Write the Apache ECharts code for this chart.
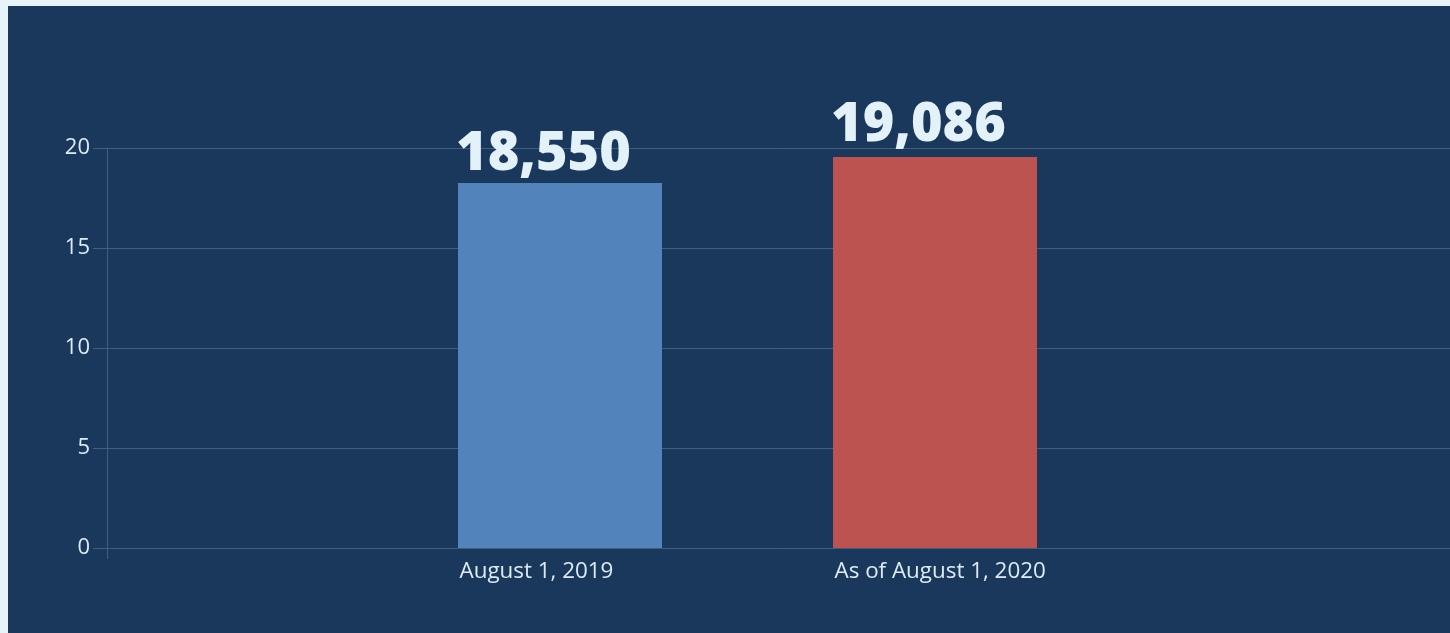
<!DOCTYPE html>
<html>
<head>
<meta charset="utf-8">
<script src="https://cdn.jsdelivr.net/npm/echarts@6/dist/echarts.min.js"></script>
<style>
  html, body { margin: 0; padding: 0; background: #e6f3f9; width: 1450px; height: 633px; overflow: hidden; }
  #chart { position: absolute; left: 8px; top: 6px; width: 1442px; height: 627px; background: #1a375c; }
</style>
</head>
<body>
<div id="chart"></div>
<script>
const categories = ['August 1, 2019', 'As of August 1, 2020'];
const values = [18.25, 19.55];
const valueLabels = ['18,550', '19,086'];
const barColors = ['#5283ba', '#bd5350'];
const yTicks = [0, 5, 10, 15, 20];

const chart = echarts.init(document.getElementById('chart'), null, { renderer: 'canvas' });
const gridColor = '#3f5f82';
const textColor = '#dcecf5';
const labelOffsets = [[-2, -1], [-2, -4]];

const option = {
  animation: false,
  backgroundColor: '#1a375c',
  grid: [
    { left: 99, right: -5, top: 142, bottom: 85, containLabel: false },
    { left: 364.5, width: 750, top: 142, bottom: 85, containLabel: false }
  ],
  xAxis: [
    {
      gridIndex: 0, type: 'value', min: 0, max: 1, interval: 1,
      axisLine: { show: false },
      axisTick: { show: true, length: 11, lineStyle: { color: gridColor, width: 1 } },
      axisLabel: { show: false },
      splitLine: { show: false }
    },
    {
      gridIndex: 1, type: 'category', data: categories,
      axisLine: { show: false },
      axisTick: { show: false },
      axisLabel: {
        margin: 13,
        color: textColor,
        fontFamily: 'Open Sans',
        fontSize: 22.4,
        formatter: v => '{a|' + v + '}',
        rich: { a: { width: 204, align: 'left', color: textColor, fontFamily: 'Open Sans', fontSize: 22.4, padding: [0, 0, 0, 3] } }
      }
    }
  ],
  yAxis: [
    {
      gridIndex: 0, type: 'value', min: yTicks[0], max: yTicks[yTicks.length - 1], interval: 5,
      axisLine: { show: true, lineStyle: { color: gridColor, width: 1 } },
      axisTick: { show: true, length: 14, lineStyle: { color: gridColor, width: 1 } },
      axisLabel: { margin: 17, color: textColor, fontFamily: 'Open Sans', fontSize: 22, padding: [0, 0, 5, 0] },
      splitLine: { show: true, lineStyle: { color: gridColor, width: 1 } }
    },
    {
      gridIndex: 1, type: 'value', min: yTicks[0], max: yTicks[yTicks.length - 1], interval: 5,
      show: false, splitLine: { show: false }
    }
  ],
  series: [
    {
      type: 'bar',
      xAxisIndex: 1, yAxisIndex: 1,
      barWidth: 204,
      data: values.map((v, i) => ({
        value: v,
        itemStyle: { color: barColors[i] },
        label: {
          show: true,
          position: labelOffsets[i],
          align: 'left',
          verticalAlign: 'bottom',
          formatter: () => valueLabels[i],
          color: '#e3f1f8',
          fontFamily: 'Open Sans',
          fontWeight: 800,
          fontSize: 54
        }
      }))
    }
  ]
};
chart.setOption(option);
</script>
</body>
</html>
